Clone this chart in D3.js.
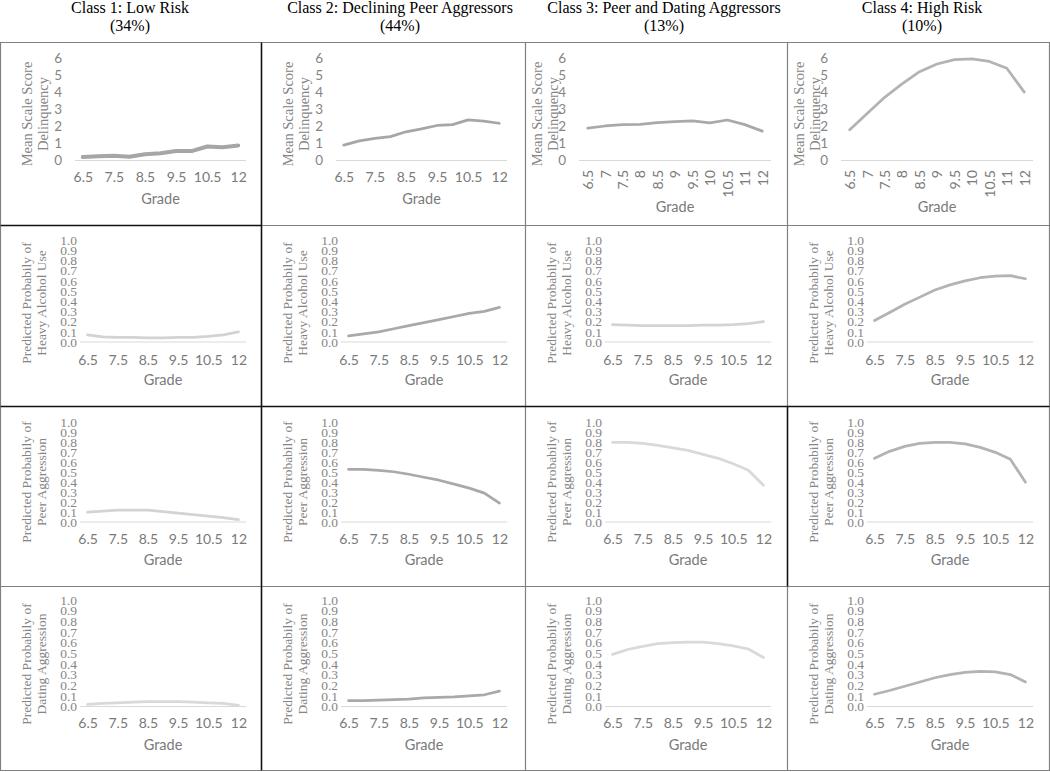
<!doctype html>
<html>

<head>
    <meta charset="utf-8">
    <title>Latent classes by grade</title>
    <style>
    body {
        margin: 0;
        background: #fff;
    }

    .tick line {
        display: none;
    }
    </style>
    <script src="https://cdn.jsdelivr.net/npm/d3@7"></script>
</head>

<body>
    <script>
    // ---- data ----
    var grades = ["6.5", "7", "7.5", "8", "8.5", "9", "9.5", "10", "10.5", "11", "12"];
    var classNames = ["Class 1: Low Risk", "Class 2: Declining Peer Aggressors", "Class 3: Peer and Dating Aggressors", "Class 4: High Risk"];
    var classShares = ["(34%)", "(44%)", "(13%)", "(10%)"];
    var measureTitles = [
        ["Mean Scale Score", "Delinquency"],
        ["Predicted Probabily of", "Heavy Alcohol Use"],
        ["Predicted Probabily of", "Peer Aggression"],
        ["Predicted Probabily of", "Dating Aggression"]
    ];
    var delinquencyTicks = [0, 1, 2, 3, 4, 5, 6];
    var probabilityTicks = [0, 0.1, 0.2, 0.3, 0.4, 0.5, 0.6, 0.7, 0.8, 0.9, 1.0];

    var delinquency = [
        [0.2, 0.25, 0.28, 0.22, 0.37, 0.42, 0.55, 0.55, 0.82, 0.78, 0.88],
        [0.9, 1.15, 1.3, 1.4, 1.68, 1.85, 2.05, 2.1, 2.38, 2.3, 2.18],
        [1.9, 2.02, 2.1, 2.12, 2.22, 2.27, 2.32, 2.2, 2.37, 2.1, 1.72],
        [1.8, 2.75, 3.7, 4.48, 5.2, 5.65, 5.9, 5.95, 5.8, 5.4, 4.0]
    ];
    var alcohol = [
        [0.07, 0.05, 0.045, 0.045, 0.04, 0.04, 0.045, 0.045, 0.055, 0.07, 0.1],
        [0.06, 0.08, 0.1, 0.13, 0.16, 0.19, 0.22, 0.25, 0.28, 0.3, 0.34],
        [0.17, 0.165, 0.16, 0.16, 0.16, 0.16, 0.165, 0.165, 0.17, 0.18, 0.2],
        [0.21, 0.29, 0.37, 0.44, 0.51, 0.56, 0.6, 0.63, 0.645, 0.65, 0.62]
    ];
    var peerAggression = [
        [0.1, 0.11, 0.12, 0.12, 0.12, 0.105, 0.09, 0.075, 0.06, 0.045, 0.025],
        [0.53, 0.53, 0.52, 0.505, 0.48, 0.45, 0.42, 0.38, 0.34, 0.29, 0.19],
        [0.8, 0.8, 0.79, 0.77, 0.745, 0.72, 0.68, 0.64, 0.585, 0.52, 0.37],
        [0.64, 0.71, 0.76, 0.79, 0.8, 0.8, 0.785, 0.75, 0.7, 0.63, 0.4]
    ];
    var datingAggression = [
        [0.02, 0.03, 0.035, 0.04, 0.045, 0.045, 0.045, 0.04, 0.035, 0.03, 0.01],
        [0.055, 0.055, 0.06, 0.065, 0.07, 0.08, 0.085, 0.09, 0.1, 0.11, 0.145],
        [0.49, 0.535, 0.565, 0.59, 0.6, 0.605, 0.605, 0.59, 0.57, 0.54, 0.46],
        [0.115, 0.15, 0.19, 0.23, 0.27, 0.3, 0.32, 0.33, 0.325, 0.3, 0.23]
    ];
    var measures = [delinquency, alcohol, peerAggression, datingAggression];

    // ---- layout / style ----
    var w = 1050,
        h = 772;
    var colLeft = [0, 261, 525, 787, 1049];
    var rowTop = [42, 225, 406, 586, 770];
    var headerX = [130, 400, 664, 922];

    // per row: value top/bottom offsets, label offset, "Grade" offset, title centre
    var rowGeo = [
        { top: 16, zero: 118.5, lab: 135, grade: 157, title: 72 },
        { top: 15, zero: 117, lab: 135, grade: 155, title: 78 },
        { top: 16.5, zero: 116, lab: 133, grade: 154, title: 76 },
        { top: 14, zero: 120.5, lab: 137, grade: 159, title: 78 }
    ];

    var lineColor = [
        ["#a6a6a6", "#a6a6a6", "#a9a9a9", "#b3b3b3"],
        ["#d3d3d3", "#a9a9a9", "#d3d3d3", "#b3b3b3"],
        ["#d3d3d3", "#a9a9a9", "#d9d9d9", "#b3b3b3"],
        ["#d9d9d9", "#a9a9a9", "#d9d9d9", "#b3b3b3"]
    ];

    var svg = d3.select("body").append("svg")
        .attr("width", w)
        .attr("height", h);

    // column headers
    classNames.forEach(function(name, c) {
        var t = svg.append("text")
            .attr("x", headerX[c])
            .attr("text-anchor", "middle")
            .style("font-family", "'Liberation Serif', 'Times New Roman', serif")
            .style("font-size", "16px")
            .style("fill", "#000");
        t.append("tspan").attr("x", headerX[c]).attr("y", 13).text(name);
        t.append("tspan").attr("x", headerX[c]).attr("y", 31).text(classShares[c]);
    });

    // panels
    measures.forEach(function(series, r) {
        series.forEach(function(values, c) {
            drawPanel(r, c, values);
        });
    });

    function drawPanel(r, c, values) {
        var left = colLeft[c],
            top = rowTop[r],
            geo = rowGeo[r],
            rotated = (r === 0 && c >= 2);

        var titleX1, titleX2, axisL, axisR = 246;
        if (r === 0) {
            if (rotated) { titleX1 = 12; titleX2 = 28; axisL = 54; } else { titleX1 = 27; titleX2 = 43; axisL = 75; }
        } else {
            titleX1 = 26; titleX2 = 41; axisL = 80;
        }

        var g = svg.append("g").attr("transform", "translate(" + left + "," + top + ")");

        var x = d3.scalePoint()
            .domain(grades)
            .range([axisL, axisR])
            .padding(0.5);

        var y = d3.scaleLinear()
            .domain(r === 0 ? [0, 6] : [0, 1])
            .range([geo.zero, geo.top]);

        // y tick labels
        var yAxis = d3.axisLeft(y)
            .tickValues(r === 0 ? delinquencyTicks : probabilityTicks)
            .tickSize(0)
            .tickPadding(0)
            .tickFormat(r === 0 ? d3.format("d") : d3.format(".1f"));

        var ya = g.append("g")
            .attr("transform", "translate(" + (axisL - (r === 0 ? 13 : 3)) + ",0)")
            .call(yAxis);
        ya.select(".domain").remove();
        ya.selectAll("text")
            .style("font-family", r === 0 ? "Lato, 'Open Sans', sans-serif" : "'Liberation Serif', 'Times New Roman', serif")
            .style("font-size", r === 0 ? "13.5px" : "13.5px")
            .style("fill", "#858585");

        // zero gridline
        g.append("line")
            .attr("x1", axisL)
            .attr("x2", axisR)
            .attr("y1", y(0))
            .attr("y2", y(0))
            .style("stroke", "#d9d9d9")
            .style("stroke-width", 1.2);

        // x tick labels
        var xAxis = d3.axisBottom(x)
            .tickSize(0)
            .tickPadding(0)
            .tickValues(rotated ? grades : grades.filter(function(d, i) { return i % 2 === 0; }));

        var xa = g.append("g")
            .attr("transform", "translate(0," + (rotated ? 128 : geo.lab) + ")")
            .call(xAxis);
        xa.select(".domain").remove();
        xa.selectAll("text")
            .style("font-family", "Lato, 'Open Sans', sans-serif")
            .style("font-size", "14px")
            .style("fill", "#7a7a7a");
        if (rotated) {
            xa.selectAll("text")
                .attr("y", 0)
                .attr("dy", "0.35em")
                .attr("transform", "rotate(-90)")
                .style("text-anchor", "end");
        } else {
            xa.selectAll("text").attr("y", 0).attr("dy", "0.35em");
        }

        // x title
        g.append("text")
            .attr("x", (axisL + axisR) / 2)
            .attr("y", rotated ? 165 : geo.grade)
            .attr("dy", "0.35em")
            .attr("text-anchor", "middle")
            .style("font-family", "Lato, 'Open Sans', sans-serif")
            .style("font-size", "14.5px")
            .style("fill", "#7a7a7a")
            .text("Grade");

        // y title (two rotated lines)
        [titleX1, titleX2].forEach(function(tx, i) {
            g.append("text")
                .attr("transform", "translate(" + tx + "," + geo.title + ")rotate(-90)")
                .attr("dy", "0.35em")
                .attr("text-anchor", "middle")
                .style("font-family", "'Liberation Serif', 'Times New Roman', serif")
                .style("font-size", r === 0 ? "14.5px" : "13.5px")
                .style("fill", "#858585")
                .text(measureTitles[r][i]);
        });

        // series line
        var line = d3.line()
            .x(function(d, i) { return x(grades[i]); })
            .y(function(d) { return y(d); });

        g.append("path")
            .datum(values)
            .attr("d", line)
            .style("fill", "none")
            .style("stroke", lineColor[r][c])
            .style("stroke-width", (r === 0 && c === 0) ? 4 : 2.75)
            .style("stroke-linejoin", "round")
            .style("stroke-linecap", "round");
    }

    // table grid
    var grid = svg.append("g");
    colLeft.forEach(function(cx) {
        grid.append("line")
            .attr("x1", cx + 0.5).attr("x2", cx + 0.5)
            .attr("y1", rowTop[0]).attr("y2", rowTop[4])
            .style("stroke", "#808080").style("stroke-width", 1.2);
    });
    rowTop.forEach(function(ry) {
        grid.append("line")
            .attr("x1", colLeft[0]).attr("x2", colLeft[4] + 1)
            .attr("y1", ry + 0.5).attr("y2", ry + 0.5)
            .style("stroke", "#808080").style("stroke-width", 1.2);
    });

    // darker cell borders
    var dark = [
        [261, rowTop[0], 261, rowTop[4]],
        [0, rowTop[1], 261, rowTop[1]],
        [0, rowTop[2], colLeft[4], rowTop[2]],
        [787, rowTop[2], 787, rowTop[3]]
    ];
    dark.forEach(function(s) {
        grid.append("line")
            .attr("x1", s[0] + 0.5).attr("y1", s[1] + 0.5)
            .attr("x2", s[2] + 0.5).attr("y2", s[3] + 0.5)
            .style("stroke", "#111").style("stroke-width", 1.5);
    });
    </script>
</body>

</html>
